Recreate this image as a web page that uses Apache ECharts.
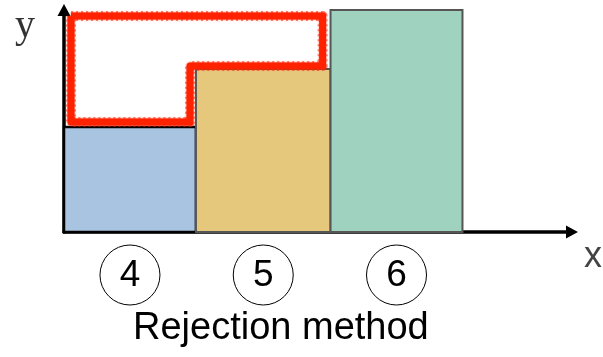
<!DOCTYPE html>
<html>
<head>
<meta charset="utf-8">
<script src="https://cdn.jsdelivr.net/npm/echarts@6/dist/echarts.min.js"></script>
<style>
  html, body { margin: 0; padding: 0; background: #fff; }
  #chart { width: 603px; height: 357px; }
</style>
</head>
<body>
<div id="chart"></div>
<script>
// bar edges along x and bar heights (arbitrary units)
const labels = ["4", "5", "6"];
const barStart = [0, 1, 2.02];
const barEnd = [1, 2.02, 3.02];
const barHeight = [0.473, 0.734, 1.0];
const barColors = ["#a9c4e0", "#e6c87d", "#a0d3bf"];
const barBorders = ["#000", "#555", "#555"];

// red rough outline (the rejected region)
const outlineX = [0.053, 1.96, 1.96, 0.955, 0.955, 0.053, 0.053];
const outlineY = [0.973, 0.973, 0.748, 0.748, 0.495, 0.495, 0.973];

const bars = labels.map((l, i) => [barStart[i], barEnd[i], barHeight[i], l]);
const outline = outlineX.map((x, i) => [x, outlineY[i]]);

const myChart = echarts.init(document.getElementById("chart"));

const axisCommon = {
  type: "value",
  min: 0,
  axisLine: {
    show: true,
    symbol: ["none", "triangle"],
    symbolSize: [13, 12],
    lineStyle: { color: "#000", width: 3.5 }
  },
  axisTick: { show: false },
  axisLabel: { show: false },
  splitLine: { show: false }
};

let option = {
  animation: false,
  grid: { left: 64, right: 31, top: 10, bottom: 125 },
  xAxis: Object.assign({}, axisCommon, { max: 3.85 }),
  yAxis: Object.assign({}, axisCommon, { max: 1 }),
  series: [
    {
      type: "custom",
      data: bars,
      encode: { x: [0, 1], y: 2 },
      z: 1,
      renderItem: function(params, api) {
        const i = params.dataIndex;
        const p0 = api.coord([api.value(0), api.value(2)]);
        const p1 = api.coord([api.value(1), 0]);
        const cx = (p0[0] + p1[0]) / 2;
        const cy = p1[1] + 43;
        return {
          type: "group",
          children: [
            {
              type: "rect",
              shape: { x: p0[0], y: p0[1], width: p1[0] - p0[0], height: p1[1] - p0[1] },
              style: { fill: barColors[i], stroke: barBorders[i], lineWidth: i === 0 ? 2.5 : 2 }
            },
            {
              type: "circle",
              shape: { cx: cx, cy: cy, r: 30 },
              style: { fill: "#fff", stroke: "#000", lineWidth: 1 }
            },
            {
              type: "text",
              x: cx,
              y: cy + 1,
              style: {
                text: labels[i],
                fill: "#000",
                font: "37px 'Liberation Sans', Arial, sans-serif",
                align: "center",
                verticalAlign: "middle"
              }
            }
          ]
        };
      }
    },
    {
      type: "line",
      data: outline,
      symbol: "none",
      z: 3,
      lineStyle: {
        color: "#ff2200",
        width: 7,
        join: "round",
        shadowColor: "rgba(255,40,0,0.8)",
        shadowBlur: 2
      }
    },
    {
      // fuzzy crayon-like edge
      type: "line",
      data: outline,
      symbol: "none",
      z: 2,
      lineStyle: {
        color: "rgba(255,30,0,0.55)",
        width: 10,
        type: [2, 3],
        join: "round"
      }
    }
  ],
  graphic: [
    {
      type: "text",
      left: 15,
      top: 6,
      style: { text: "y", fill: "#333", font: "40px 'Liberation Serif', 'Times New Roman', serif" }
    },
    {
      type: "text",
      left: 584,
      top: 239,
      style: { text: "x", fill: "#444", font: "36px 'Liberation Sans', Arial, sans-serif" }
    },
    {
      type: "text",
      left: 133,
      top: 310,
      style: { text: "Rejection method", fill: "#000", font: "38px 'Liberation Sans', Arial, sans-serif" }
    }
  ]
};
myChart.setOption(option, true);
</script>
</body>
</html>
